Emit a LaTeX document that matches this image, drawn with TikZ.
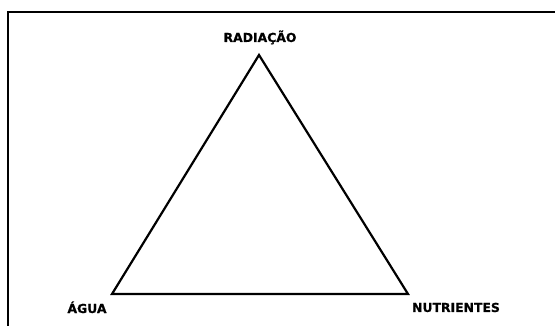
\documentclass[tikz,border=0pt]{standalone}
\usepackage{fontspec}
\setmainfont{DejaVu Sans}[BoldFeatures={FakeBold=0.8}]
\begin{document}
\begin{tikzpicture}[x=1pt,y=-1pt,
  lbl/.style={font=\bfseries\fontsize{12.4}{14}\selectfont, inner sep=0pt, anchor=base},
  edge/.style={line width=2.2pt, line join=miter}]
\useasboundingbox (0,0) rectangle (555,326);
\begin{scope}
\clip (0,0) rectangle (555,326);
\draw[line width=2.4pt] (8,12) rectangle (620,400);
\end{scope}
\coordinate (top) at (259,55);
\coordinate (left) at (112,294);
\coordinate (right) at (408,294);
\draw[edge] (top) -- (left) -- (right) -- cycle;
\node[lbl] (rad) at (260,42) {RADIAÇÃO};
\node[lbl] (agua) at (87,313) {ÁGUA};
\node[lbl] (nut) at (456,312) {NUTRIENTES};
\end{tikzpicture}
\end{document}
